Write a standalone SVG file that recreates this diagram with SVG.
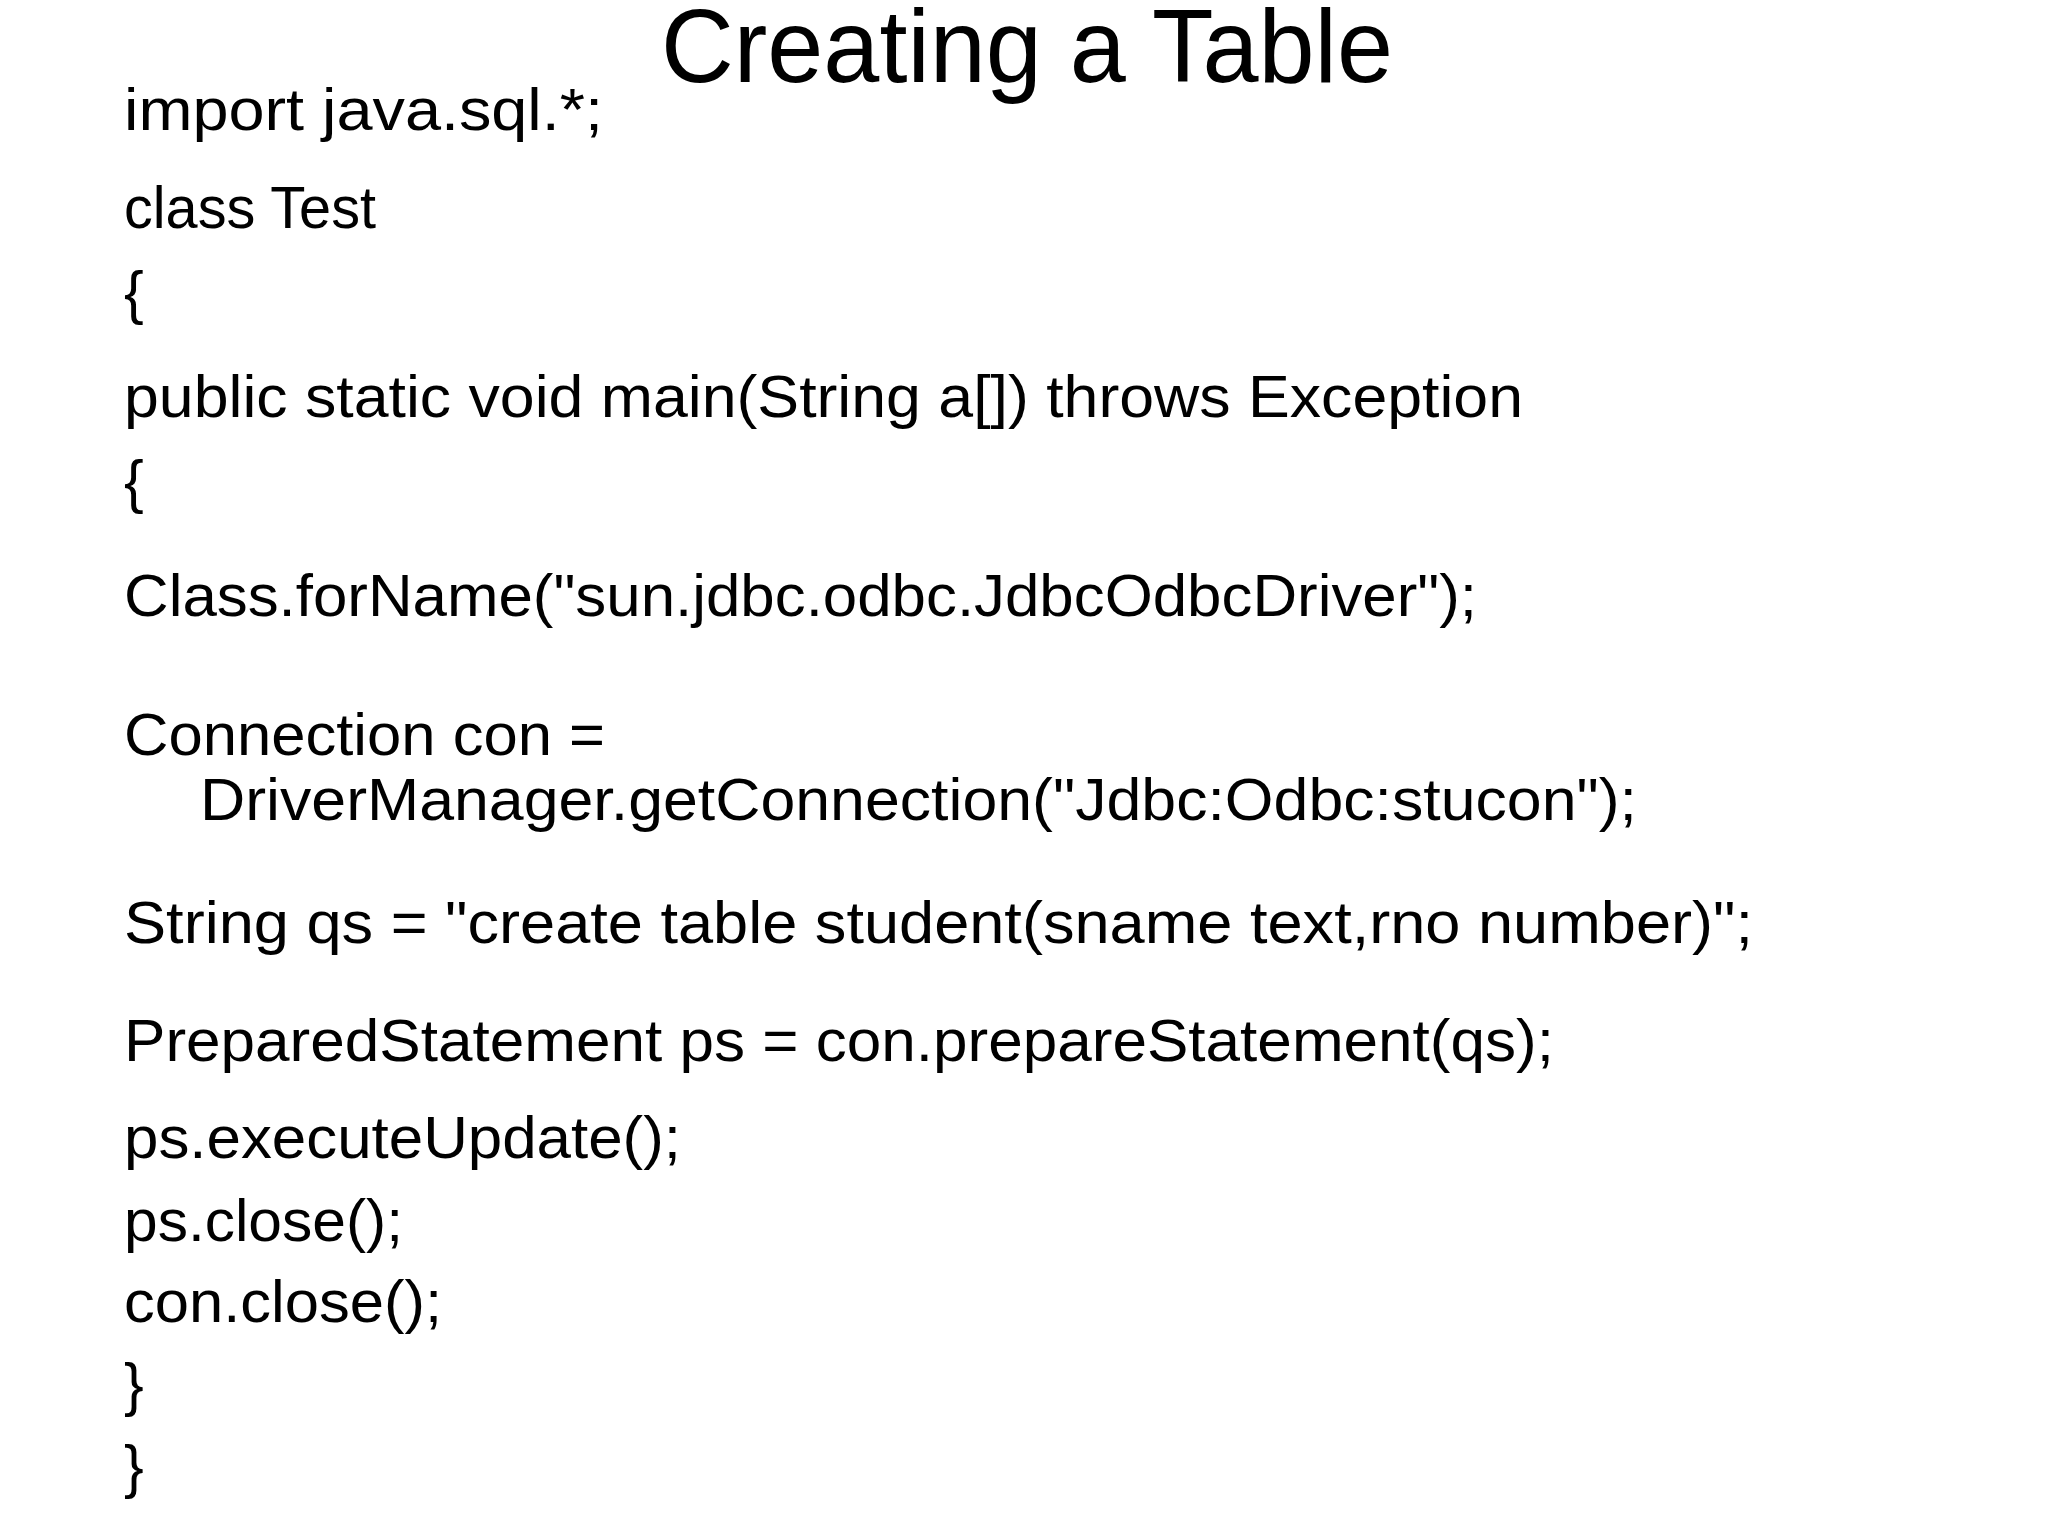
<svg xmlns="http://www.w3.org/2000/svg" width="2048" height="1536" viewBox="0 0 2048 1536">
<style>
text{font-family:"Liberation Sans","Open Sans",sans-serif;fill:#000}
.b{font-size:59px}
.t{font-size:104px}
</style>
<rect width="2048" height="1536" fill="#fff"/>
<g id="title"><text class="t" x="661" y="82" textLength="732" lengthAdjust="spacingAndGlyphs">Creating a Table</text></g>
<g id="code" class="b">
<text x="124" y="130" textLength="479" lengthAdjust="spacingAndGlyphs">import java.sql.*;</text>
<text x="124" y="228" textLength="252" lengthAdjust="spacingAndGlyphs">class Test</text>
<text x="124" y="313">{</text>
<text x="124" y="417" textLength="1399" lengthAdjust="spacingAndGlyphs">public static void main(String a[]) throws Exception</text>
<text x="124" y="502">{</text>
<text x="124" y="616" textLength="1353" lengthAdjust="spacingAndGlyphs">Class.forName("sun.jdbc.odbc.JdbcOdbcDriver");</text>
<text x="124" y="755" textLength="481" lengthAdjust="spacingAndGlyphs">Connection con =</text>
<text x="200" y="820" textLength="1437" lengthAdjust="spacingAndGlyphs">DriverManager.getConnection("Jdbc:Odbc:stucon");</text>
<text x="124" y="943" textLength="1629" lengthAdjust="spacingAndGlyphs">String qs = "create table student(sname text,rno number)";</text>
<text x="124" y="1061" textLength="1430" lengthAdjust="spacingAndGlyphs">PreparedStatement ps = con.prepareStatement(qs);</text>
<text x="124" y="1158" textLength="557" lengthAdjust="spacingAndGlyphs">ps.executeUpdate();</text>
<text x="124" y="1241" textLength="279" lengthAdjust="spacingAndGlyphs">ps.close();</text>
<text x="124" y="1322" textLength="318" lengthAdjust="spacingAndGlyphs">con.close();</text>
<text x="124" y="1405">}</text>
<text x="124" y="1487">}</text>
</g>
</svg>
